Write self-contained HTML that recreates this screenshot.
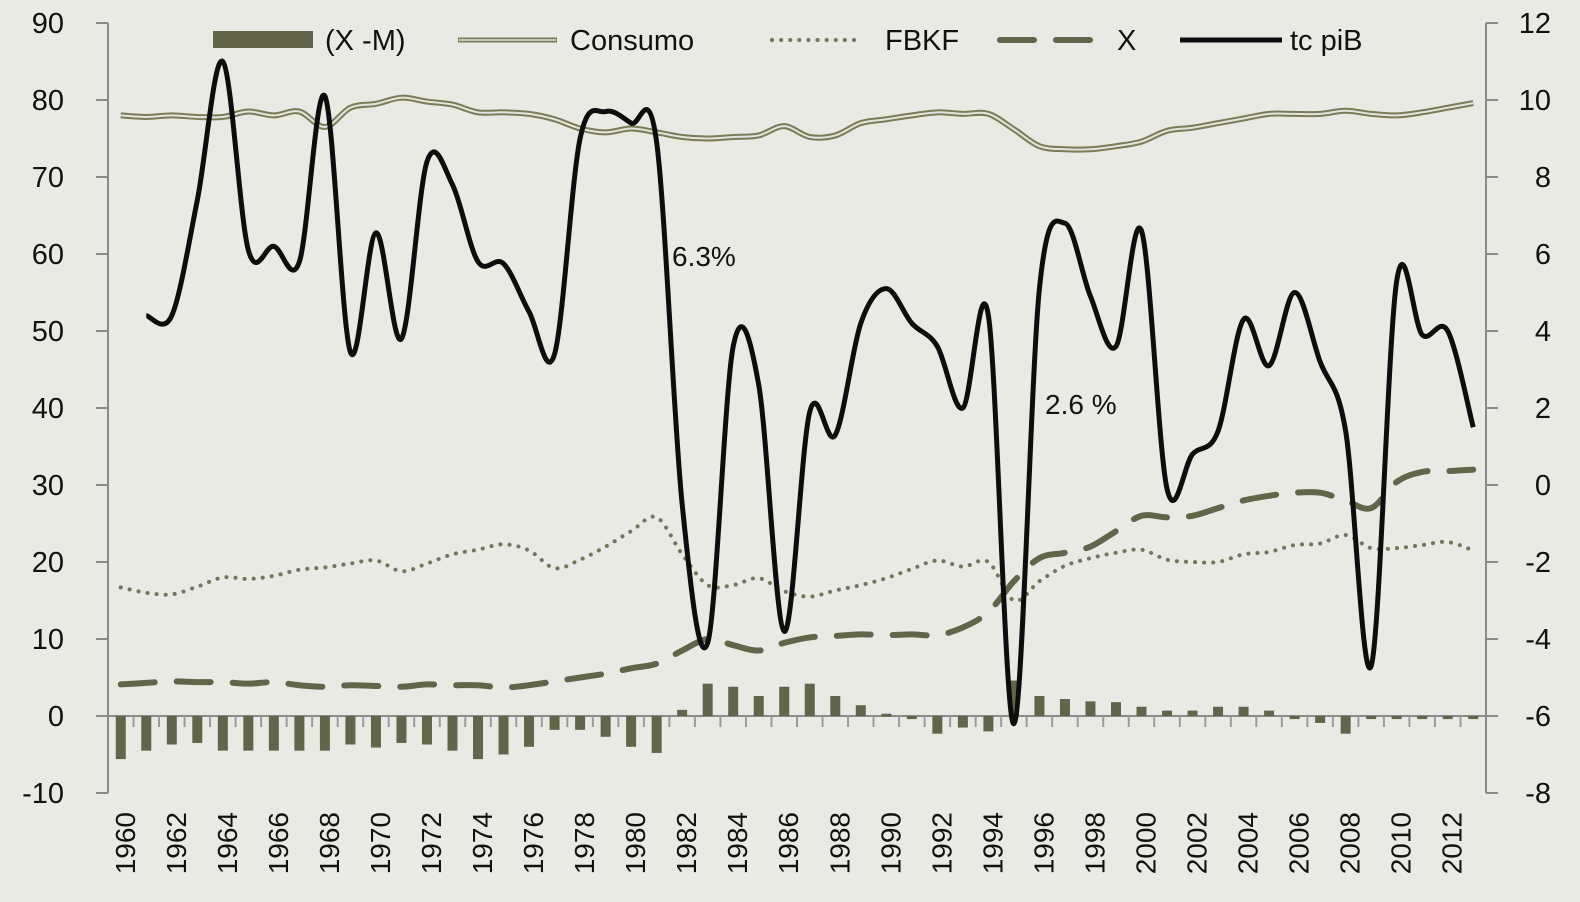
<!DOCTYPE html>
<html><head><meta charset="utf-8"><style>
html,body{margin:0;padding:0;background:#eaeae5;}
svg{display:block;font-family:"Liberation Sans",Arial,sans-serif;}
</style></head><body>
<svg id="chart" width="1580" height="902" viewBox="0 0 1580 902">
<rect width="1580" height="902" fill="#eaeae5"/>
<g id="g"></g>
</svg>
<script>
const years=[];for(let y=1960;y<=2013;y++)years.push(y);
const xm=[-5.6,-4.5,-3.7,-3.5,-4.5,-4.5,-4.5,-4.5,-4.5,-3.7,-4.1,-3.5,-3.7,-4.5,-5.6,-5.0,-4.0,-1.8,-1.8,-2.7,-4.0,-4.8,0.8,4.2,3.8,2.6,3.8,4.2,2.6,1.4,0.3,-0.4,-2.3,-1.5,-2.0,4.6,2.6,2.2,1.9,1.8,1.2,0.7,0.7,1.2,1.2,0.7,-0.4,-0.9,-2.3,-0.4,-0.4,-0.4,-0.4,-0.4];
const consumo=[78,77.8,78,77.8,77.8,78.5,78,78.5,76.5,79,79.5,80.3,79.8,79.4,78.4,78.4,78.2,77.5,76.3,75.8,76.3,75.8,75.2,75.0,75.2,75.4,76.6,75.2,75.4,77,77.5,78,78.4,78.2,78.2,76.2,74,73.6,73.6,74,74.6,76,76.4,77,77.6,78.2,78.2,78.2,78.6,78.2,78,78.4,79,79.6];
const fbkf=[16.7,16,15.8,16.8,18,17.8,18.2,19,19.3,19.8,20.2,18.8,19.8,21,21.6,22.3,21.5,19.2,20.3,22,24,25.8,21,17,17,17.9,16.2,15.5,16.3,17,17.9,19.1,20.2,19.4,20,15,17.5,19.5,20.5,21.2,21.6,20.3,20,20,21,21.3,22.2,22.4,23.5,21.8,21.8,22.2,22.6,21.5];
const xs=[4.1,4.3,4.5,4.4,4.4,4.2,4.4,4.0,3.8,4.0,3.9,3.8,4.1,4.0,4.0,3.7,4.0,4.5,5.0,5.5,6.2,6.8,8.5,10,9.2,8.5,9.5,10.2,10.4,10.6,10.5,10.6,10.5,11.5,13.5,17.5,20.5,21.2,22,24,26,25.8,26,27,28,28.6,29,29,28,27,30.4,31.7,31.8,32];
const tcYears=years.slice(1);
const tc=[4.4,4.4,7.4,11.0,6.1,6.2,5.8,10.1,3.45,6.55,3.8,8.4,7.8,5.8,5.75,4.5,3.4,9.0,9.7,9.4,8.9,-0.5,-4.1,3.6,2.6,-3.8,1.9,1.3,4.2,5.1,4.2,3.6,2.0,4.4,-6.2,5.1,6.8,4.9,3.6,6.6,-0.1,0.8,1.4,4.3,3.1,5.0,3.2,1.4,-4.7,5.3,3.9,4.0,1.5];
const leftTicks=[90,80,70,60,50,40,30,20,10,0,-10];
const rightTicks=[12,10,8,6,4,2,0,-2,-4,-6,-8];

const NS="http://www.w3.org/2000/svg",g=document.getElementById('g');
const X0=108,X1=1486,yr0=1960,n=54,bw=(X1-X0)/n;
const xS=y=>X0+bw*(y-yr0+0.5);
const yL=v=>716-v*7.7;
const yR=v=>716-(v+6)*38.5;
const OL="#63654a";
function el(t,a,p){const e=document.createElementNS(NS,t);for(const k in a)e.setAttribute(k,a[k]);(p||g).appendChild(e);return e;}
function smooth(pts){let d="M"+pts[0][0]+","+pts[0][1];for(let i=0;i<pts.length-1;i++){const p0=pts[Math.max(i-1,0)],p1=pts[i],p2=pts[i+1],p3=pts[Math.min(i+2,pts.length-1)];const c1=[p1[0]+(p2[0]-p0[0])/6,p1[1]+(p2[1]-p0[1])/6],c2=[p2[0]-(p3[0]-p1[0])/6,p2[1]-(p3[1]-p1[1])/6];d+=`C${c1[0]},${c1[1]} ${c2[0]},${c2[1]} ${p2[0]},${p2[1]}`;}return d;}

let a=el('line',{x1:X0,y1:yL(90),x2:X0,y2:yL(-10),stroke:"#8a8a8a","stroke-width":2});

a=el('line',{x1:X1,y1:yR(12),x2:X1,y2:yR(-8),stroke:"#8a8a8a","stroke-width":2});

leftTicks.forEach(v=>{el('line',{x1:X0-12,y1:yL(v),x2:X0,y2:yL(v),stroke:"#8a8a8a","stroke-width":2});
const t=el('text',{x:64,y:yL(v)+10,"text-anchor":"end","font-size":29,fill:"#111"});t.textContent=v;
});
rightTicks.forEach(v=>{el('line',{x1:X1,y1:yR(v),x2:X1+12,y2:yR(v),stroke:"#8a8a8a","stroke-width":2});
const t=el('text',{x:1551,y:yR(v)+10,"text-anchor":"end","font-size":29,fill:"#111"});t.textContent=v;
});
a=el('line',{x1:X0-12,y1:yL(0),x2:X1,y2:yL(0),stroke:"#8a8a8a","stroke-width":2});

for(let i=1;i<n;i++)el('line',{x1:X0+bw*i,y1:yL(0),x2:X0+bw*i,y2:yL(0)+11,stroke:"#9a9a9a","stroke-width":2});
years.forEach(y=>{if((y-1960)%2)return;const x=xS(y);const t=el('text',{x:0,y:0,transform:`translate(${x+14},812) rotate(-90)`,"text-anchor":"end","font-size":28,fill:"#111"});t.textContent=y;
});

xm.forEach((v,i)=>{const x=xS(years[i]);const r=el('rect',{x:x-5,y:Math.min(yL(v),yL(0)),width:10,height:Math.max(Math.abs(yL(v)-yL(0)),3),fill:OL});
});

const cp=consumo.map((v,i)=>[xS(years[i]),yL(v)]);
let p=el('path',{d:smooth(cp),fill:"none",stroke:"#7a7c58","stroke-width":6});

el('path',{d:smooth(cp),fill:"none",stroke:"#e4e4dc","stroke-width":2});
p=el('path',{d:smooth(fbkf.map((v,i)=>[xS(years[i]),yL(v)])),fill:"none",stroke:"#73765a","stroke-width":4,"stroke-dasharray":"0.1 9","stroke-linecap":"round"});

p=el('path',{d:smooth(xs.map((v,i)=>[xS(years[i]),yL(v)])),fill:"none",stroke:"#63654a","stroke-width":6,"stroke-dasharray":"34 22","stroke-linecap":"round"});

p=el('path',{d:smooth(tc.map((v,i)=>[xS(tcYears[i]),yR(v)])),fill:"none",stroke:"#0d0d0d","stroke-width":5});


let t=el('text',{x:672,y:266,"font-size":28,fill:"#111"});t.textContent="6.3%";

t=el('text',{x:1045,y:414,"font-size":28,fill:"#111"});t.textContent="2.6 %";


const lg=el('g',{});
el('rect',{x:213,y:31,width:100,height:17,fill:OL},lg);
el('line',{x1:458,y1:40,x2:557,y2:40,stroke:"#7a7c58","stroke-width":5},lg);
el('line',{x1:459,y1:40,x2:556,y2:40,stroke:"#e4e4dc","stroke-width":1.5},lg);
el('line',{x1:772,y1:40,x2:862,y2:40,stroke:"#73765a","stroke-width":4,"stroke-dasharray":"0.1 9","stroke-linecap":"round"},lg);
el('line',{x1:1000,y1:40,x2:1106,y2:40,stroke:"#63654a","stroke-width":6,"stroke-dasharray":"34 22","stroke-linecap":"round"},lg);
el('line',{x1:1180,y1:40,x2:1282,y2:40,stroke:"#0d0d0d","stroke-width":5},lg);
[["(X -M)",325],["Consumo",570],["FBKF",885],["X",1117],["tc piB",1290]].forEach(([s,x])=>{const t=el('text',{x:x,y:50,"font-size":29,fill:"#111"},lg);t.textContent=s;
});
</script>
</body></html>
